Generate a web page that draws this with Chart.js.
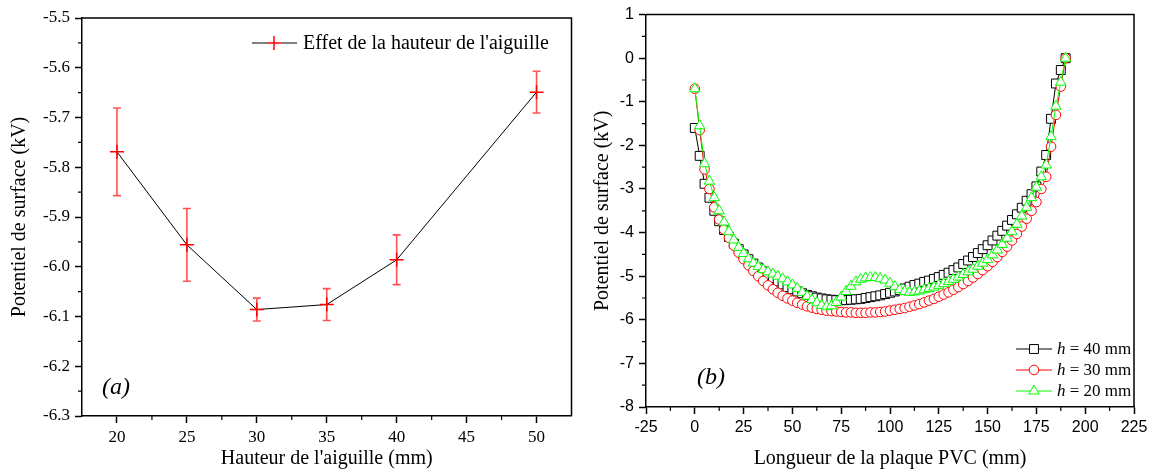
<!DOCTYPE html>
<html>
<head>
<meta charset="utf-8">
<script src="https://cdn.jsdelivr.net/npm/chart.js@4.4.0/dist/chart.umd.min.js"></script>
<style>
  html, body { margin: 0; padding: 0; background: #fff; }
  #wrap { position: relative; width: 1153px; height: 473px; overflow: hidden; }
  .panel { position: absolute; top: 0; height: 473px; }
</style>
</head>
<body>
<div id="wrap">
  <div class="panel" style="left:0;width:580px"><canvas id="chartA" width="580" height="473"></canvas></div>
  <div class="panel" style="left:580px;width:573px"><canvas id="chartB" width="573" height="473"></canvas></div>
</div>
<script>
// --- panel (a): effet de la hauteur de l'aiguille ---
var hauteurs = [20, 25, 30, 35, 40, 50];
var potentielMoyen = [-5.769, -5.956, -6.086, -6.076, -5.986, -5.649];
var potentielErreur = [0.088, 0.073, 0.023, 0.032, 0.050, 0.042];
var hauteurTicks = [20, 25, 30, 35, 40, 45, 50];
var hauteurMinor = [22.5, 27.5, 32.5, 37.5, 42.5, 47.5];
var potentielTicks = [-5.5, -5.6, -5.7, -5.8, -5.9, -6.0, -6.1, -6.2, -6.3];
var potentielMinor = [-5.55, -5.65, -5.75, -5.85, -5.95, -6.05, -6.15, -6.25];

// --- panel (b): profil le long de la plaque PVC ---
var positionsPVC = [0, 2.5, 5, 7.5, 10, 12.5, 15, 17.5, 20, 22.5, 25, 27.5, 30, 32.5, 35, 37.5, 40, 42.5, 45, 47.5,
  50, 52.5, 55, 57.5, 60, 62.5, 65, 67.5, 70, 72.5, 75, 77.5, 80, 82.5, 85, 87.5, 90, 92.5, 95, 97.5,
  100, 102.5, 105, 107.5, 110, 112.5, 115, 117.5, 120, 122.5, 125, 127.5, 130, 132.5, 135, 137.5, 140, 142.5, 145, 147.5,
  150, 152.5, 155, 157.5, 160, 162.5, 165, 167.5, 170, 172.5, 175, 177.5, 180, 182.5, 185, 187.5, 190];
var potentielH40 = [-1.6, -2.24, -2.88, -3.2, -3.5, -3.74, -3.94, -4.1, -4.25, -4.38, -4.5, -4.61, -4.71, -4.8, -4.89, -4.97, -5.05, -5.12, -5.19, -5.25,
  -5.3, -5.35, -5.39, -5.43, -5.46, -5.49, -5.51, -5.53, -5.54, -5.55, -5.55, -5.55, -5.54, -5.53, -5.52, -5.5, -5.48, -5.46, -5.44, -5.41,
  -5.38, -5.35, -5.32, -5.28, -5.24, -5.2, -5.17, -5.13, -5.1, -5.06, -5.02, -4.97, -4.92, -4.86, -4.8, -4.72, -4.64, -4.56, -4.47, -4.38,
  -4.29, -4.18, -4.07, -3.96, -3.84, -3.71, -3.58, -3.43, -3.27, -3.12, -2.94, -2.6, -2.22, -1.39, -0.58, -0.27, 0];
var potentielH30 = [-0.7, -1.65, -2.55, -3.0, -3.42, -3.7, -3.93, -4.12, -4.3, -4.46, -4.61, -4.75, -4.88, -5.0, -5.11, -5.21, -5.3, -5.38, -5.45, -5.51,
  -5.56, -5.61, -5.65, -5.69, -5.72, -5.75, -5.77, -5.79, -5.8, -5.81, -5.82, -5.83, -5.83, -5.84, -5.84, -5.84, -5.83, -5.83, -5.82, -5.81,
  -5.79, -5.77, -5.75, -5.73, -5.7, -5.67, -5.64, -5.6, -5.56, -5.52, -5.47, -5.42, -5.37, -5.31, -5.25, -5.18, -5.11, -5.03, -4.95, -4.86,
  -4.77, -4.67, -4.56, -4.44, -4.32, -4.18, -4.03, -3.86, -3.68, -3.5, -3.3, -3.0, -2.72, -2.03, -1.3, -0.65, 0];
var potentielH20 = [-0.7, -1.55, -2.42, -2.82, -3.2, -3.5, -3.76, -3.98, -4.17, -4.34, -4.48, -4.6, -4.7, -4.78, -4.85, -4.9, -4.95, -5.0, -5.06, -5.13,
  -5.2, -5.28, -5.37, -5.46, -5.54, -5.61, -5.67, -5.7, -5.68, -5.6, -5.48, -5.35, -5.23, -5.13, -5.07, -5.04, -5.03, -5.03, -5.05, -5.09,
  -5.16, -5.24, -5.31, -5.35, -5.37, -5.36, -5.34, -5.31, -5.28, -5.25, -5.21, -5.17, -5.12, -5.07, -5.02, -4.96, -4.9, -4.84, -4.77, -4.7,
  -4.62, -4.51, -4.4, -4.27, -4.13, -3.98, -3.81, -3.62, -3.42, -3.2, -2.96, -2.72, -2.45, -1.8, -1.1, -0.55, 0];
var longueurTicks = [-25, 0, 25, 50, 75, 100, 125, 150, 175, 200, 225];
var longueurMinor = [-12.5, 12.5, 37.5, 62.5, 87.5, 112.5, 137.5, 162.5, 187.5, 212.5];
var surfaceTicks = [1, 0, -1, -2, -3, -4, -5, -6, -7, -8];
var surfaceMinor = [0.5, -0.5, -1.5, -2.5, -3.5, -4.5, -5.5, -6.5, -7.5];
var legendeB = ['h = 40 mm', 'h = 30 mm', 'h = 20 mm'];

var SERIF = '"Liberation Serif", "Times New Roman", serif';
var SANS = '"Liberation Sans", Arial, sans-serif';

function pairs(xs, ys) {
  return xs.map(function (x, i) { return { x: x, y: ys[i] }; });
}

function fixedTicks(values) {
  return function (scale) {
    scale.ticks = values.map(function (v) { return { value: v }; });
  };
}

// frame on the two free sides + short minor ticks like Origin
var frameMinor = {
  id: 'frameMinor',
  afterDraw: function (chart, args, opts) {
    var ctx = chart.ctx, a = chart.chartArea;
    var sx = chart.scales.x, sy = chart.scales.y;
    ctx.save();
    ctx.strokeStyle = '#000';
    ctx.lineWidth = 1.5;
    ctx.beginPath();
    ctx.moveTo(a.left, a.top);
    ctx.lineTo(a.right, a.top);
    ctx.lineTo(a.right, a.bottom);
    ctx.stroke();
    ctx.lineWidth = 1.2;
    ctx.beginPath();
    opts.xMinor.forEach(function (v) {
      var px = sx.getPixelForValue(v);
      ctx.moveTo(px, a.bottom);
      ctx.lineTo(px, a.bottom + 4);
    });
    opts.yMinor.forEach(function (v) {
      var py = sy.getPixelForValue(v);
      ctx.moveTo(a.left, py);
      ctx.lineTo(a.left - 4, py);
    });
    ctx.stroke();
    ctx.restore();
  }
};

var errorBars = {
  id: 'errorBars',
  beforeDatasetsDraw: function (chart) {
    var ctx = chart.ctx, sx = chart.scales.x, sy = chart.scales.y;
    ctx.save();
    ctx.strokeStyle = 'rgba(255,40,40,0.8)';
    ctx.lineWidth = 1.6;
    ctx.beginPath();
    hauteurs.forEach(function (h, i) {
      var px = sx.getPixelForValue(h);
      var top = sy.getPixelForValue(potentielMoyen[i] + potentielErreur[i]);
      var bot = sy.getPixelForValue(potentielMoyen[i] - potentielErreur[i]);
      ctx.moveTo(px, top); ctx.lineTo(px, bot);
      ctx.moveTo(px - 4, top); ctx.lineTo(px + 4, top);
      ctx.moveTo(px - 4, bot); ctx.lineTo(px + 4, bot);
    });
    ctx.stroke();
    ctx.restore();
  }
};

var notesA = {
  id: 'notesA',
  afterDraw: function (chart) {
    var ctx = chart.ctx;
    ctx.save();
    ctx.strokeStyle = '#000';
    ctx.lineWidth = 1;
    ctx.beginPath();
    ctx.moveTo(252, 43); ctx.lineTo(267, 43);
    ctx.moveTo(281, 43); ctx.lineTo(297, 43);
    ctx.stroke();
    ctx.strokeStyle = '#ff0000';
    ctx.lineWidth = 1.5;
    Chart.helpers.drawPoint(ctx, { pointStyle: 'cross', radius: 7, borderWidth: 1.5, rotation: 0 }, 274, 43);
    ctx.fillStyle = '#000';
    ctx.textBaseline = 'middle';
    ctx.textAlign = 'left';
    ctx.font = '20px ' + SERIF;
    ctx.fillText("Effet de la hauteur de l'aiguille", 303, 44);
    ctx.font = 'italic 24px ' + SERIF;
    ctx.fillText('(a)', 102, 388);
    ctx.restore();
  }
};

var notesB = {
  id: 'notesB',
  afterDraw: function (chart) {
    var ctx = chart.ctx;
    var ds = chart.data.datasets;
    var x0 = 1016 - 580;
    ctx.save();
    ctx.textBaseline = 'middle';
    ctx.textAlign = 'left';
    legendeB.forEach(function (txt, i) {
      var y = 349 + i * 21;
      var d = ds[i];
      ctx.strokeStyle = d.borderColor;
      ctx.lineWidth = 1;
      ctx.beginPath();
      ctx.moveTo(x0, y); ctx.lineTo(x0 + 36, y);
      ctx.stroke();
      ctx.fillStyle = '#fff';
      Chart.helpers.drawPoint(ctx, { pointStyle: d.pointStyle, radius: d.pointRadius, borderWidth: 1, rotation: 0 }, x0 + 18, y);
      ctx.fillStyle = '#000';
      ctx.font = 'italic 17px ' + SERIF;
      ctx.fillText(txt.slice(0, 1), x0 + 41, y + 1);
      var w = ctx.measureText(txt.slice(0, 1)).width;
      ctx.font = '17px ' + SERIF;
      ctx.fillText(txt.slice(1), x0 + 41 + w, y + 1);
    });
    ctx.font = 'italic 24px ' + SERIF;
    ctx.fillText('(b)', 697 - 580, 378);
    ctx.restore();
  }
};

function axisStyle(extra) {
  var base = {
    type: 'linear',
    grid: { drawOnChartArea: false, drawTicks: true, tickLength: 7, tickWidth: 1.5, tickColor: '#000' },
    border: { display: true, color: '#000', width: 1.5 }
  };
  Object.keys(extra).forEach(function (k) { base[k] = extra[k]; });
  return base;
}

new Chart(document.getElementById('chartA'), {
  type: 'line',
  data: {
    datasets: [{
      label: "Effet de la hauteur de l'aiguille",
      data: pairs(hauteurs, potentielMoyen),
      borderColor: '#000',
      borderWidth: 1,
      pointStyle: 'cross',
      pointRadius: 7,
      pointBorderColor: '#ff0000',
      pointBorderWidth: 1.5,
      tension: 0
    }]
  },
  options: {
    responsive: false,
    devicePixelRatio: 1,
    animation: false,
    layout: { padding: { left: 0, right: 6, top: 18, bottom: 0 } },
    plugins: {
      legend: { display: false },
      tooltip: { enabled: false },
      frameMinor: { xMinor: hauteurMinor, yMinor: potentielMinor }
    },
    scales: {
      x: axisStyle({
        min: 17.5, max: 52.5,
        afterBuildTicks: fixedTicks(hauteurTicks),
        afterFit: function (s) { s.height = 57; },
        ticks: { color: '#000', padding: 4, maxRotation: 0, autoSkip: false, font: { family: SERIF, size: 17 },
          callback: function (v) { return String(v); } },
        title: { display: true, text: "Hauteur de l'aiguille (mm)", color: '#000', font: { family: SERIF, size: 20 }, padding: { top: 0, bottom: 2 } }
      }),
      y: axisStyle({
        min: -6.3, max: -5.5,
        afterBuildTicks: fixedTicks(potentielTicks),
        afterFit: function (s) { s.width = 82; },
        ticks: { color: '#000', padding: 5, autoSkip: false, font: { family: SERIF, size: 17 },
          callback: function (v) { return v.toFixed(1); } },
        title: { display: true, text: 'Potentiel de surface (kV)', color: '#000', font: { family: SERIF, size: 20 }, padding: { top: 8, bottom: 0 } }
      })
    }
  },
  plugins: [errorBars, frameMinor, notesA]
});

function serie(label, ys, color, style, radius, order) {
  return {
    label: label,
    data: pairs(positionsPVC, ys),
    borderColor: color,
    borderWidth: 1,
    pointStyle: style,
    pointRadius: radius,
    pointBorderColor: color,
    pointBackgroundColor: '#fff',
    pointBorderWidth: 1,
    tension: 0,
    order: order
  };
}

new Chart(document.getElementById('chartB'), {
  type: 'line',
  data: {
    datasets: [
      serie(legendeB[0], potentielH40, '#000000', 'rect', 6.3, 3),
      serie(legendeB[1], potentielH30, '#ff0000', 'circle', 4.8, 2),
      serie(legendeB[2], potentielH20, '#00ff00', 'triangle', 6, 1)
    ]
  },
  options: {
    responsive: false,
    devicePixelRatio: 1,
    animation: false,
    layout: { padding: { left: 0, right: 19, top: 14, bottom: 0 } },
    plugins: {
      legend: { display: false },
      tooltip: { enabled: false },
      frameMinor: { xMinor: longueurMinor, yMinor: surfaceMinor }
    },
    scales: {
      x: axisStyle({
        min: -25, max: 225,
        afterBuildTicks: fixedTicks(longueurTicks),
        afterFit: function (s) { s.height = 66; },
        ticks: { color: '#000', padding: 4, maxRotation: 0, autoSkip: false, font: { family: SANS, size: 16 },
          callback: function (v) { return String(v); } },
        title: { display: true, text: 'Longueur de la plaque PVC (mm)', color: '#000', font: { family: SERIF, size: 20 }, padding: { top: 0, bottom: 2 } }
      }),
      y: axisStyle({
        min: -8, max: 1,
        afterBuildTicks: fixedTicks(surfaceTicks),
        afterFit: function (s) { s.width = 66; },
        ticks: { color: '#000', padding: 5, autoSkip: false, font: { family: SANS, size: 16 },
          callback: function (v) { return String(v); } },
        title: { display: true, text: 'Potentiel de surface (kV)', color: '#000', font: { family: SERIF, size: 20 }, padding: { top: 11, bottom: 0 } }
      })
    }
  },
  plugins: [frameMinor, notesB]
});
</script>
</body>
</html>
